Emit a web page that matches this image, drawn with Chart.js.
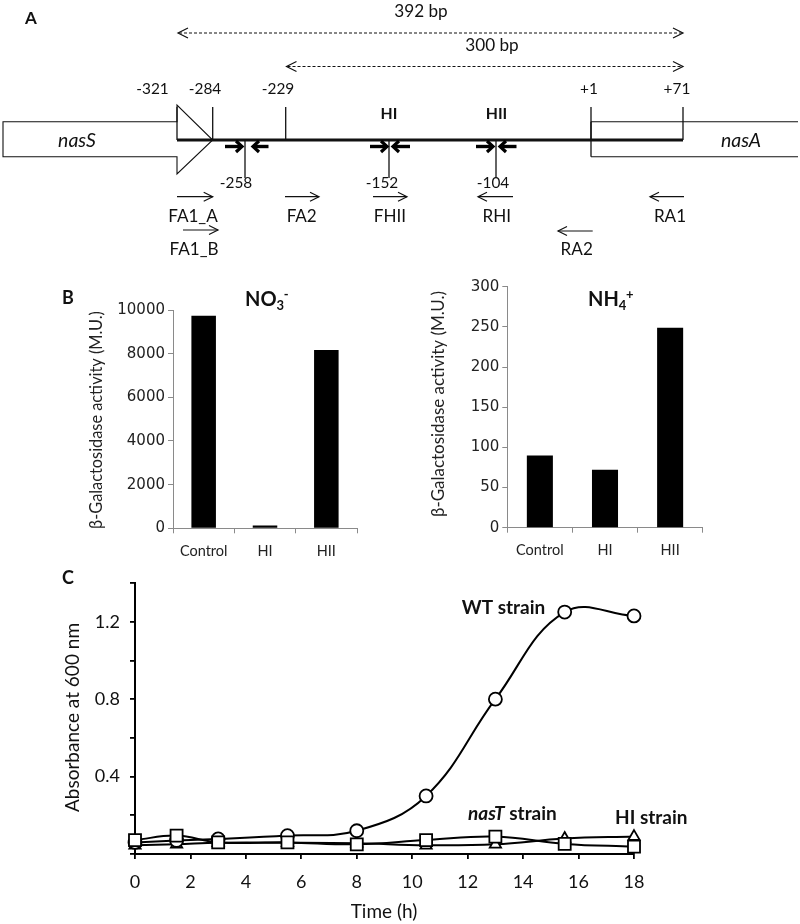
<!DOCTYPE html>
<html><head><meta charset="utf-8">
<script src="https://cdn.jsdelivr.net/npm/chart.js@4.4.1/dist/chart.umd.min.js"></script>
<style>
html,body{margin:0;padding:0;background:#fff;}
#wrap{position:relative;width:800px;height:924px;overflow:hidden;background:#fff;}
canvas{position:absolute;}
</style></head><body>
<div id="wrap">
<canvas id="cA" width="800" height="270" style="left:0;top:0;"></canvas>
<canvas id="cB1" width="400" height="300" style="left:0;top:270px;"></canvas>
<canvas id="cB2" width="400" height="300" style="left:400px;top:270px;"></canvas>
<canvas id="cC" width="800" height="364" style="left:0;top:560px;"></canvas>
</div>
<script>
// ---------------- DATA ----------------
// Panel A (promoter map)
const fragmentLabels = ['392 bp', '300 bp'];
const topSiteLabels = ['-321', '-284', '-229', '+1', '+71'];
const bottomSiteLabels = ['-258', '-152', '-104'];
const geneNames = ['nasS', 'nasA'];
const hairpinLabels = ['HI', 'HII'];
const primerNames = ['FA1_A', 'FA1_B', 'FA2', 'FHII', 'RHI', 'RA1', 'RA2'];
const primerDirections = [1, 1, 1, 1, -1, -1, -1];

// Panel B (bar charts)
const bCategories = ['Control', 'HI', 'HII'];
const no3Activity = [9740, 130, 8170];
const nh4Activity = [90, 72, 249];
const bYTitle = 'β-Galactosidase activity (M.U.)';

// Panel C (growth curves)
const timeHours = [0, 1.5, 3, 5.5, 8, 10.5, 13, 15.5, 18];
const wtAbs   = [0.06, 0.07, 0.078, 0.095, 0.12, 0.30, 0.80, 1.25, 1.23];
const nasTAbs = [0.072, 0.095, 0.06, 0.06, 0.05, 0.072, 0.09, 0.052, 0.038];
const hiAbs   = [0.045, 0.05, 0.058, 0.058, 0.055, 0.045, 0.05, 0.08, 0.09];
const cYTickLabels = ['0.4', '0.8', '1.2'];
const seriesNames = ['WT strain', 'nasT strain', 'HI strain'];

// ---------------- LAYOUT (schematic, panel A) ----------------
const layoutA = {
  fragY: [33, 66.5], fragX1: [178, 286.5], fragX2: 683,
  fragLabelPos: [[421, 11], [492, 45]], fragLabelW: [53, 54],
  topLabelX: [152.5, 205, 278, 589, 677], topLabelY: 88, topLabelW: [31.7, 34, 33, 18, 27],
  topTickX: [177, 212.7, 285.7, 591, 683], topTickY: 107,
  lineY: 140, lineX1: 177, lineX2: 683,
  bottomTickX: [245, 389, 496], bottomTickY2: 178,
  bottomLabelX: [236, 382, 493], bottomLabelY: 182, bottomLabelW: [32, 30, 34],
  hairpinX: [389, 496.5], hairpinY: 113, hairpinW: [16.7, 21.7],
  irPairs: [[225, 242, 268.5, 253], [370, 387, 410, 393], [476, 493, 516.5, 500]], irY: 146.5,
  primerX: [[177, 212.7], [183, 218], [285, 319], [373, 407], [513, 478], [684, 650], [592.7, 558]],
  primerY: [196.7, 230, 196.7, 196.7, 196.7, 196.7, 231],
  primerLabelX: [193, 194, 301.7, 390, 496.7, 670, 576.7],
  primerLabelY: [216, 249, 216, 216, 216, 216, 249],
  primerLabelW: [51.7, 50, 28, 36, 26.7, 30, 31.7],
  geneLabelPos: [[77, 140], [741, 140]], geneLabelW: [38, 40],
  nasS: {x0: 3, xb: 177, tip: 212.7, top: 121.7, bot: 156.7, headTop: 105, headBot: 174},
  nasA: {x0: 591, x1: 798, top: 121.7, bot: 156.7}
};

const FONT = 'Lato';
function fontStr(size, o) { return `${o.style || 'normal'} ${o.weight || 'normal'} ${size}px ${o.family || FONT}`; }
function txt(ctx, s, x, y, size, o = {}) {
  ctx.save();
  ctx.font = fontStr(size, o);
  ctx.fillStyle = o.color || '#111';
  ctx.textAlign = o.align || 'center';
  ctx.textBaseline = 'alphabetic';
  if (o.rotate) {
    ctx.translate(x, y);
    ctx.rotate(-Math.PI / 2);
    ctx.fillText(s, 0, 0.34 * size);
  } else {
    ctx.fillText(s, x, y + 0.36 * size);
  }
  const w = ctx.measureText(s).width;
  ctx.restore();
  return w;
}
// one font size for a group of labels, so that their total width matches the reference
function groupSize(ctx, strs, widths, o = {}) {
  ctx.save(); ctx.font = fontStr(100, o);
  let m = 0, t = 0;
  strs.forEach((s, i) => { m += ctx.measureText(s).width / 100; t += widths[i]; });
  ctx.restore();
  return t / m;
}

// ---------------- PANEL A ----------------
const diagramPlugin = {
  id: 'diagram',
  afterDraw(chart) {
    const ctx = chart.ctx;
    const X = v => chart.scales.x.getPixelForValue(v);
    const Y = v => chart.scales.y.getPixelForValue(v);
    const L = layoutA;
    function line(x1, y1, x2, y2, w) {
      ctx.beginPath(); ctx.lineWidth = w; ctx.moveTo(X(x1), Y(y1)); ctx.lineTo(X(x2), Y(y2)); ctx.stroke();
    }
    function chev(xt, y, dir, len, half, w) {
      ctx.beginPath(); ctx.lineWidth = w;
      ctx.moveTo(X(xt - dir * len), Y(y - half)); ctx.lineTo(X(xt), Y(y)); ctx.lineTo(X(xt - dir * len), Y(y + half));
      ctx.stroke();
    }
    ctx.save();
    ctx.strokeStyle = '#111'; ctx.lineCap = 'butt'; ctx.lineJoin = 'miter';
    txt(ctx, 'A', 31, 18, 17, {weight: 'bold'});

    // dashed fragment arrows
    const fs = groupSize(ctx, fragmentLabels, L.fragLabelW);
    fragmentLabels.forEach((lab, i) => {
      const y = L.fragY[i];
      ctx.setLineDash([3, 2]);
      line(L.fragX1[i] + 1, y, L.fragX2 - 1, y, 1.2);
      ctx.setLineDash([]);
      chev(L.fragX1[i], y, -1, 10, 5, 1.2);
      chev(L.fragX2, y, 1, 10, 5, 1.2);
      txt(ctx, lab, X(L.fragLabelPos[i][0]), Y(L.fragLabelPos[i][1]), fs);
    });

    // site labels
    const ss = groupSize(ctx, topSiteLabels.concat(bottomSiteLabels), L.topLabelW.concat(L.bottomLabelW));
    topSiteLabels.forEach((lab, i) => txt(ctx, lab, X(L.topLabelX[i]), Y(L.topLabelY), ss));

    // nasS arrow
    const s = L.nasS;
    ctx.beginPath(); ctx.lineWidth = 1.1;
    ctx.moveTo(X(s.x0), Y(s.top)); ctx.lineTo(X(s.xb), Y(s.top)); ctx.lineTo(X(s.xb), Y(s.headTop));
    ctx.lineTo(X(s.tip), Y(L.lineY)); ctx.lineTo(X(s.xb), Y(s.headBot)); ctx.lineTo(X(s.xb), Y(s.bot));
    ctx.lineTo(X(s.x0), Y(s.bot)); ctx.closePath();
    ctx.fillStyle = '#fff'; ctx.fill(); ctx.stroke();

    // nasA box
    const a = L.nasA;
    line(a.x0, a.top, a.x1, a.top, 1.1);
    line(a.x0, a.bot, a.x1, a.bot, 1.1);
    line(a.x0, a.top, a.x0, a.bot, 1.3);

    L.topTickX.forEach(x => line(x, L.topTickY, x, L.lineY, 1.3));
    line(L.lineX1, L.lineY, L.lineX2, L.lineY, 3.2);
    L.bottomTickX.forEach(x => line(x, L.lineY, x, L.bottomTickY2, 1.3));
    bottomSiteLabels.forEach((lab, i) => txt(ctx, lab, X(L.bottomLabelX[i]), Y(L.bottomLabelY), ss));

    const gs = groupSize(ctx, geneNames, L.geneLabelW, {style: 'italic'});
    geneNames.forEach((g, i) => txt(ctx, g, X(L.geneLabelPos[i][0]), Y(L.geneLabelPos[i][1]), gs, {style: 'italic'}));
    const hs = groupSize(ctx, hairpinLabels, L.hairpinW, {weight: 'bold'});
    hairpinLabels.forEach((h, i) => txt(ctx, h, X(L.hairpinX[i]), Y(L.hairpinY), hs, {weight: 'bold'}));

    // inverted repeat bold arrows
    ctx.strokeStyle = '#000';
    L.irPairs.forEach(p => {
      const [t1, h1, t2, h2] = p, y = L.irY;
      line(t1, y, h1 - 1.5, y, 3.4); chev(h1, y, 1, 6, 5.5, 3.2);
      line(t2, y, h2 + 1.5, y, 3.4); chev(h2, y, -1, 6, 5.5, 3.2);
    });

    // primer arrows
    ctx.strokeStyle = '#111';
    const ps = groupSize(ctx, primerNames, L.primerLabelW);
    primerNames.forEach((p, i) => {
      const [x1, x2] = L.primerX[i], y = L.primerY[i];
      line(x1, y, x2, y, 1.2);
      chev(x2, y, primerDirections[i], 9, 4.5, 1.2);
      txt(ctx, p, X(L.primerLabelX[i]), Y(L.primerLabelY[i]), ps);
    });
    ctx.restore();
  }
};

new Chart(document.getElementById('cA'), {
  type: 'scatter',
  data: {datasets: []},
  options: {
    responsive: false, animation: false, events: [], devicePixelRatio: 1,
    layout: {padding: 0},
    plugins: {legend: {display: false}, tooltip: {enabled: false}},
    scales: {
      x: {type: 'linear', min: 0, max: 800, display: false},
      y: {type: 'linear', min: 0, max: 270, reverse: true, display: false}
    }
  },
  plugins: [diagramPlugin]
});

// ---------------- PANEL B ----------------
function barTitlePlugin(cfg) {
  return {
    id: 'bt' + cfg.main,
    afterDraw(chart) {
      const ctx = chart.ctx;
      if (cfg.letter) txt(ctx, cfg.letter[0], cfg.letter[1], cfg.letter[2], 18, {weight: 'bold', align: 'left'});
      const w = txt(ctx, cfg.main, cfg.x, cfg.y, 20, {weight: 'bold', align: 'left'});
      const w2 = txt(ctx, cfg.sub, cfg.x + w, cfg.y + 6, 13, {weight: 'bold', align: 'left'});
      txt(ctx, cfg.sup, cfg.x + w + w2 * 0.9 + 0.5, cfg.y - 5, 13, {weight: 'bold', align: 'left'});
      const ts = groupSize(ctx, [bYTitle], [cfg.tlen]);
      txt(ctx, bYTitle, cfg.tx, cfg.ty, ts, {rotate: true, color: '#222'});
    }
  };
}
function barChart(id, values, yMax, step, pad, xH, yW, titleCfg) {
  return new Chart(document.getElementById(id), {
    type: 'bar',
    data: {labels: bCategories, datasets: [{data: values, backgroundColor: '#000', borderWidth: 0,
      categoryPercentage: 0.8, barPercentage: 0.5}]},
    options: {
      responsive: false, animation: false, events: [], devicePixelRatio: 1,
      layout: {padding: pad},
      plugins: {legend: {display: false}, tooltip: {enabled: false}},
      scales: {
        x: {
          grid: {display: true, drawOnChartArea: false, drawTicks: true, tickLength: 5, color: '#8a8a8a', offset: true},
          border: {display: true, color: '#8a8a8a', width: 1},
          ticks: {font: {family: FONT, size: 14.5}, color: '#222', padding: 9},
          afterFit(s) { s.height = xH; }
        },
        y: {
          min: 0, max: yMax,
          grid: {display: true, drawOnChartArea: false, drawTicks: true, tickLength: 5, color: '#8a8a8a'},
          border: {display: true, color: '#8a8a8a', width: 1},
          ticks: {stepSize: step, font: {family: 'DejaVu Sans', size: 15}, color: '#222', padding: 3,
            callback: v => String(v)},
          afterFit(s) { s.width = yW; }
        }
      }
    },
    plugins: [barTitlePlugin(titleCfg)]
  });
}
barChart('cB1', no3Activity, 10000, 2000, {left: 93, right: 43, top: 40, bottom: 0}, 41.7, 80,
  {letter: ['B', 62, 28], main: 'NO', sub: '3', sup: '-', x: 245, y: 29, tx: 96, ty: 150, tlen: 218});
barChart('cB2', nh4Activity, 300, 50, {left: 37.3, right: 97.3, top: 16.7, bottom: 0}, 42.3, 70,
  {main: 'NH', sub: '4', sup: '+', x: 188, y: 29, tx: 38, ty: 134, tlen: 226});

// ---------------- PANEL C ----------------
const pts = arr => timeHours.map((t, i) => ({x: t, y: arr[i]}));
const cTextPlugin = {
  id: 'cText',
  afterDraw(chart) {
    const ctx = chart.ctx;
    txt(ctx, 'C', 62, 18, 18, {weight: 'bold', align: 'left'});
    txt(ctx, 'Absorbance at 600 nm', 72.5, 157.5, 19, {rotate: true});
    txt(ctx, 'Time (h)', 384, 351, 19);
    txt(ctx, seriesNames[0], 461.7, 46.7, 19, {weight: 'bold', align: 'left'});
    const w = txt(ctx, 'nasT', 468, 253.3, 19, {weight: 'bold', style: 'italic', align: 'left'});
    txt(ctx, ' strain', 468 + w, 253.3, 19, {weight: 'bold', align: 'left'});
    txt(ctx, seriesNames[2], 615, 256.7, 19, {weight: 'bold', align: 'left'});
  }
};
const common = {borderColor: '#000', borderWidth: 2, pointBackgroundColor: '#fff', pointBorderColor: '#000',
  pointBorderWidth: 1.8, tension: 0.4, clip: false, fill: false};
new Chart(document.getElementById('cC'), {
  type: 'line',
  data: {datasets: [
    Object.assign({}, common, {label: seriesNames[1], data: pts(nasTAbs), pointStyle: 'rect', pointRadius: 8.5, order: 1}),
    Object.assign({}, common, {label: seriesNames[0], data: pts(wtAbs), pointStyle: 'circle', pointRadius: 6.5, order: 2}),
    Object.assign({}, common, {label: seriesNames[2], data: pts(hiAbs), pointStyle: 'triangle', pointRadius: 6.5, order: 3})
  ]},
  options: {
    responsive: false, animation: false, events: [], devicePixelRatio: 1,
    layout: {padding: {left: 55, right: 166, top: 23, bottom: 0}},
    plugins: {legend: {display: false}, tooltip: {enabled: false}},
    scales: {
      x: {
        type: 'linear', min: 0, max: 18,
        grid: {display: true, drawOnChartArea: false, drawTicks: true, tickLength: 5, color: '#000', lineWidth: 1.8},
        border: {display: true, color: '#000', width: 2},
        ticks: {stepSize: 2, font: {family: FONT, size: 18}, color: '#111', padding: 12},
        afterFit(s) { s.height = 70; }
      },
      y: {
        min: 0, max: 1.4,
        grid: {display: true, drawOnChartArea: false, drawTicks: true, tickLength: 5, color: '#000', lineWidth: 1.8},
        border: {display: true, color: '#000', width: 2},
        ticks: {stepSize: 0.2, font: {family: FONT, size: 18}, color: '#111', padding: 10,
          callback: v => { const s = (Math.round(v * 10) / 10).toFixed(1); return cYTickLabels.includes(s) ? s : ''; }},
        afterFit(s) { s.width = 80; }
      }
    }
  },
  plugins: [cTextPlugin]
});
</script>
</body></html>
